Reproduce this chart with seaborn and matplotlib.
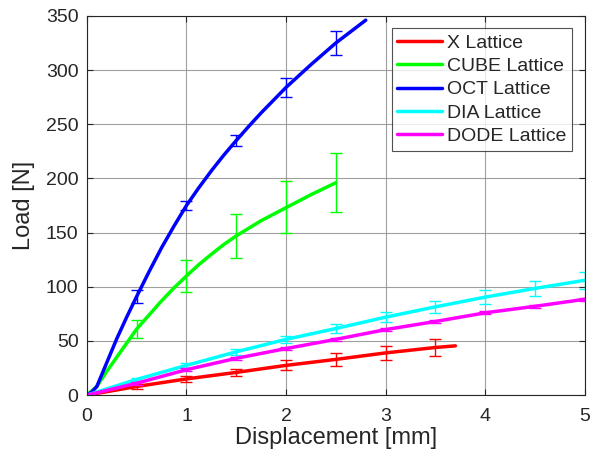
import matplotlib.pyplot as plt
import seaborn as sns
import numpy as np
import pandas as pd

# ----------------------------------------
# Load-displacement curves
# ----------------------------------------
x_disp = [0, 0.5, 1.0, 1.5, 2.0, 2.5, 3.0, 3.5, 3.7]
x_load = [0, 8, 15, 21, 27.5, 33, 39, 44, 45.5]

cube_disp = [0, 0.1, 0.2, 0.3, 0.4, 0.5, 0.625, 0.75, 0.875, 1.0, 1.125, 1.25, 1.375,
             1.5, 1.75, 2.0, 2.25, 2.5]
cube_load = [0, 8, 22, 35, 48, 61, 74, 87, 99, 110, 120.5, 130, 139, 147, 161, 173, 185, 196]

oct_disp = [0, 0.05, 0.1, 0.15, 0.2, 0.25, 0.3, 0.35, 0.4, 0.45, 0.5, 0.625, 0.75, 0.875,
            1.0, 1.125, 1.25, 1.375, 1.5, 1.625, 1.75, 2.0, 2.25, 2.5, 2.65, 2.8]
oct_load = [0, 3, 8, 19, 30, 41, 52, 62, 72, 81.5, 91, 114, 136, 156, 175, 191.5, 207,
            221.5, 235, 248, 260.5, 284, 305, 325, 335.5, 346]

dia_disp = [0, 0.5, 1.0, 1.5, 2.0, 2.5, 3.0, 3.5, 4.0, 4.5, 5.0]
dia_load = [0, 14.5, 27.5, 40, 51.5, 61.5, 72, 81.5, 90.5, 98.5, 106]

dode_disp = [0, 0.5, 1.0, 1.5, 2.0, 2.5, 3.0, 3.5, 4.0, 4.5, 5.0]
dode_load = [0, 11, 23.5, 34, 43, 51.5, 60.5, 68, 76, 82, 88.5]

# error bars (mean, half-width) at 0.5 mm steps
x_eb_pos = [0.5, 1.0, 1.5, 2.0, 2.5, 3.0, 3.5]
x_eb_mean = [8, 15, 21, 27.5, 33, 39, 44]
x_eb_err = [2, 2.5, 3, 4.5, 6, 6.5, 7.5]

cube_eb_pos = [0.5, 1.0, 1.5, 2.0, 2.5]
cube_eb_mean = [61, 110, 147, 174, 196]
cube_eb_err = [8, 15, 20, 24, 27]

oct_eb_pos = [0.5, 1.0, 1.5, 2.0, 2.5]
oct_eb_mean = [91, 175, 235, 284, 325]
oct_eb_err = [6, 4, 5, 9, 11]

dia_eb_pos = [0.5, 1.0, 1.5, 2.0, 2.5, 3.0, 3.5, 4.0, 4.5, 5.0]
dia_eb_mean = [14.5, 27.5, 40, 51.5, 61.5, 72, 81.5, 90.5, 98.5, 106]
dia_eb_err = [1.5, 2, 3, 3.5, 4.5, 4.5, 5.5, 6.5, 7, 8]

dode_eb_pos = [0.5, 1.0, 1.5, 2.0, 2.5, 3.0, 3.5, 4.0, 4.5, 5.0]
dode_eb_mean = [11, 23.5, 34, 43, 51.5, 60.5, 68, 76, 82, 88.5]
dode_eb_err = [1.5, 1.5, 1.5, 1.5, 1.5, 1.5, 1.5, 1.5, 1.5, 1.5]

series = [
    ("X Lattice", x_disp, x_load, x_eb_pos, x_eb_mean, x_eb_err, "#ff0000"),
    ("CUBE Lattice", cube_disp, cube_load, cube_eb_pos, cube_eb_mean, cube_eb_err, "#00ff00"),
    ("OCT Lattice", oct_disp, oct_load, oct_eb_pos, oct_eb_mean, oct_eb_err, "#0000ff"),
    ("DIA Lattice", dia_disp, dia_load, dia_eb_pos, dia_eb_mean, dia_eb_err, "#00ffff"),
    ("DODE Lattice", dode_disp, dode_load, dode_eb_pos, dode_eb_mean, dode_eb_err, "#ff00ff"),
]

sns.set_style("ticks")
plt.rcParams["font.family"] = ["Liberation Sans", "DejaVu Sans"]

fig = plt.figure(figsize=(6.03, 4.66), dpi=100)
ax = fig.add_axes([0.144, 0.152, 0.826, 0.814])

for name, d, l, ep, em, ee, c in series:
    df = pd.DataFrame({"Displacement": d, "Load": l})
    sns.lineplot(data=df, x="Displacement", y="Load", ax=ax, color=c, lw=2.5, label=name)
    ax.errorbar(ep, em, yerr=ee, fmt="none", ecolor=c, elinewidth=1, capsize=4, capthick=1)

ax.set_xlim(0, 5)
ax.set_ylim(0, 350)
ax.set_xticks(np.arange(0, 6, 1))
ax.set_yticks(np.arange(0, 351, 50))
ax.grid(True, color="#888888", lw=0.8, alpha=0.8)
ax.tick_params(direction="in", length=4, colors="#262626", labelsize=14, top=True, right=True,
               labeltop=False, labelright=False)
ax.tick_params(axis="x", pad=9)
ax.tick_params(axis="y", pad=6)
for s in ax.spines.values():
    s.set_color("#262626")
    s.set_linewidth(0.8)
ax.set_xlabel("Displacement [mm]", fontsize=17, color="#262626", labelpad=2)
ax.set_ylabel("Load [N]", fontsize=17, color="#262626", labelpad=8)

leg = ax.legend(loc="upper right", fontsize=14, frameon=True, fancybox=False,
                handlelength=2.3, handletextpad=0.25, borderpad=0.3, labelspacing=0.29,
                borderaxespad=0.65, edgecolor="#262626")
leg.get_frame().set_linewidth(0.8)
for t in leg.get_texts():
    t.set_color("#262626")

plt.savefig("out.png", dpi=100)
plt.close()
